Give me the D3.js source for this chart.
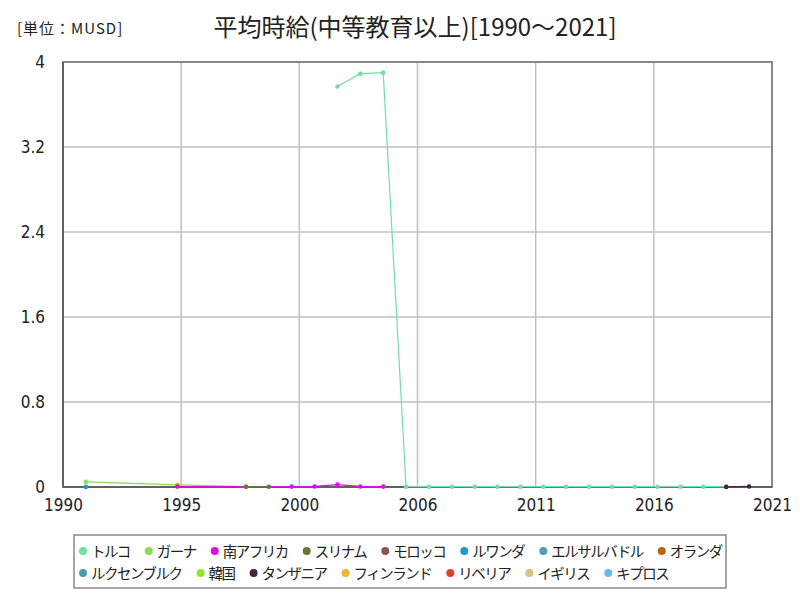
<!DOCTYPE html>
<html><head><meta charset="utf-8">
<script src="https://cdn.jsdelivr.net/npm/d3@7"></script>
<style>
body{margin:0;background:#fff;}
svg{font-family:"Noto Sans CJK JP","Noto Sans",sans-serif;}
</style></head>
<body><svg id="c" width="800" height="600"></svg>
<script>
const titleText = "平均時給(中等教育以上)[1990～2021]";
const unitText = "[単位：MUSD]";
const countries = ["トルコ","ガーナ","南アフリカ","スリナム","モロッコ","ルワンダ","エルサルバドル","オランダ","ルクセンブルク","韓国","タンザニア","フィンランド","リベリア","イギリス","キプロス"];
const colors = ["#72e0a0","#88dd55","#dd11dd","#667733","#885555","#2299cc","#5599bb","#bb6611","#44a0a8","#88ee22","#442244","#eeb830","#dd4422","#ddc088","#66bbee"];
const yTicks = [0,0.8,1.6,2.4,3.2,4];

const turkey = [[2002,3.77],[2003,3.89],[2004,3.90],[2005,0.003],[2006,0.003],[2007,0.003],[2008,0.003],[2009,0.003],[2010,0.003],[2011,0.003],[2012,0.003],[2013,0.003],[2014,0.003],[2015,0.003],[2016,0.003],[2017,0.003],[2018,0.003],[2019,0.003]];
const ghana = [[1991,0.048],[1995,0.02],[1998,0.004]];
const southAfrica = [[1995,0.004],[2000,0.004],[2001,0.005],[2002,0.022],[2003,0.005],[2004,0.004]];
const suriname = [[1998,0.003],[1999,0.003]];
const morocco = [];
const rwanda = [[1991,0.001]];
const elSalvador = [];
const netherlands = [];
const luxembourg = [];
const korea = [];
const tanzania = [[2019,0.001],[2020,0.005]];
const finland = [];
const liberia = [];
const uk = [];
const cyprus = [];
const seriesData = [turkey,ghana,southAfrica,suriname,morocco,rwanda,elSalvador,netherlands,luxembourg,korea,tanzania,finland,liberia,uk,cyprus];

const svg = d3.select("#c");
const L=63,R=772,T=62,B=487;
const x = d3.scaleLinear().domain([1990,2021]).range([L,R]);
const y = d3.scaleLinear().domain([0,4]).range([B,T]);
const xTickVals = d3.range(7).map(i=>1990+i*31/6);

// grid
svg.append("g").selectAll("line").data(xTickVals.slice(1,-1)).join("line")
  .attr("x1",d=>x(d)).attr("x2",d=>x(d)).attr("y1",T).attr("y2",B)
  .attr("stroke","#c0c0c0").attr("stroke-width",1.5);
svg.append("g").selectAll("line").data(yTicks.slice(1,-1)).join("line")
  .attr("x1",L).attr("x2",R).attr("y1",d=>y(d)).attr("y2",d=>y(d))
  .attr("stroke","#c0c0c0").attr("stroke-width",1.5);

// frame
svg.append("rect").attr("x",L).attr("y",T).attr("width",R-L).attr("height",B-T)
  .attr("fill","none").attr("stroke","#888").attr("stroke-width",2);
svg.append("line").attr("x1",L).attr("x2",R).attr("y1",B).attr("y2",B).attr("stroke","#555").attr("stroke-width",1.5);
svg.append("line").attr("x1",L).attr("x2",L).attr("y1",T).attr("y2",B).attr("stroke","#555").attr("stroke-width",1.5);

// axes
const tickFont = "'Liberation Sans Narrow','DejaVu Sans Condensed','Noto Sans',sans-serif";
const xAxis = d3.axisBottom(x).tickValues(xTickVals).tickFormat(d=>Math.round(d)).tickSize(0).tickPadding(12);
const gx = svg.append("g").attr("transform",`translate(0,${B})`).call(xAxis);
gx.select(".domain").remove();
gx.selectAll("text").attr("font-size",17).attr("fill","#222").attr("font-family",tickFont);
const yAxis = d3.axisLeft(y).tickValues(yTicks).tickFormat(d=>d).tickSize(0).tickPadding(18);
const gy = svg.append("g").attr("transform",`translate(${L},0)`).call(yAxis);
gy.select(".domain").remove();
gy.selectAll("text").attr("font-size",17).attr("fill","#222").attr("font-family",tickFont);

// series
const line = d3.line().x(d=>x(d[0])).y(d=>y(d[1]));
seriesData.forEach((s,i)=>{
  if(!s.length) return;
  svg.append("path").datum(s).attr("d",line).attr("fill","none").attr("stroke",colors[i]).attr("stroke-width",1.2);
  svg.append("g").selectAll("circle").data(s).join("circle")
    .attr("cx",d=>x(d[0])).attr("cy",d=>y(d[1])).attr("r",2.3).attr("fill",colors[i]);
});

// title
svg.append("text").attr("x",415).attr("y",36).attr("text-anchor","middle")
  .attr("font-size",24).attr("fill","#222").text(titleText);
svg.append("text").attr("x",17).attr("y",34).attr("font-size",15).attr("letter-spacing",1).attr("fill","#222").text(unitText);

// legend
svg.append("rect").attr("x",74).attr("y",535).attr("width",652).attr("height",53)
  .attr("fill","#fff").attr("stroke","#888").attr("stroke-width",1.5);
const rows=[countries.slice(0,8).map((c,i)=>i), countries.slice(8).map((c,i)=>i+8)];
rows.forEach((row,ri)=>{
  let cx=83; const cy=551+ri*22;
  row.forEach(i=>{
    svg.append("circle").attr("cx",cx).attr("cy",cy).attr("r",4).attr("fill",colors[i]);
    const t=svg.append("text").attr("x",cx+8).attr("y",cy+5.5).attr("font-size",14.5).attr("letter-spacing",-1.5).attr("fill","#222").text(countries[i]);
    cx += 8 + t.node().getComputedTextLength() + 19;
  });
});
</script></body></html>
